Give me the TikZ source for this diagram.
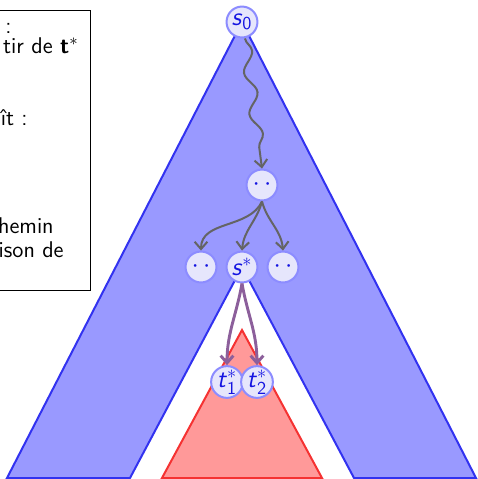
\documentclass[tikz,border=0pt]{standalone}
\usetikzlibrary{arrows.meta,decorations.pathmorphing}
\definecolor{nodefill}{RGB}{230,230,252}
\definecolor{nodedraw}{RGB}{140,140,255}
\definecolor{bluefill}{RGB}{153,153,255}
\definecolor{bluedraw}{RGB}{50,50,240}
\definecolor{redfill}{RGB}{255,153,153}
\definecolor{reddraw}{RGB}{245,50,50}
\definecolor{arrgray}{RGB}{100,100,100}
\definecolor{arrpurple}{RGB}{140,95,155}
\definecolor{nodetext}{RGB}{20,20,225}
\tikzset{
  state/.style={circle, fill=nodefill, draw=nodedraw, line width=1.1pt, minimum size=17pt, inner sep=0pt, text=nodetext, font=\sffamily\fontsize{14}{16}\selectfont},
  frag/.style={anchor=base east, inner sep=0pt, font=\sffamily\fontsize{12.5}{15}\selectfont},
  grayarr/.style={draw=arrgray, line width=1.1pt, -{Straight Barb[length=4pt,width=7pt]}},
  purparr/.style={draw=arrpurple, line width=1.6pt, -{Straight Barb[length=4pt,width=7pt]}},
}
\begin{document}
\begin{tikzpicture}[x=0.55pt,y=-0.55pt]
\useasboundingbox (0,0) rectangle (478,479);
% text box (cut at left edge)
\draw[line width=0.5pt] (-80,10) rectangle (90,290);
\node[frag] (l1) at (12,33) {:};
\node[frag] (l2) at (79,53) {tir de \textbf{t}$^*$};
\node[frag] (l3) at (28,125) {ît :};
\node[frag] (l4) at (54,233) {hemin};
\node[frag] (l5) at (64,257) {ison de};
% blue tree with notch
\filldraw[fill=bluefill, draw=bluedraw, line width=1.1pt, line join=miter]
  (242,22) -- (476,478) -- (354,478) -- (242,267) -- (130,478) -- (7,478) -- cycle;
% red subtree
\filldraw[fill=redfill, draw=reddraw, line width=1.1pt]
  (242,330) -- (322,478) -- (162,478) -- cycle;
% nodes
\node[state] (s0) at (242,22) {\textit{s}$_{\mathsf{0}}$};
\node[state] (m) at (262,185) {$\cdot\,\cdot$};
\node[state] (a) at (201,267) {$\cdot\,\cdot$};
\node[state] (s) at (242,267) {\textit{s}$^{*}$};
\node[state] (b) at (283,267) {$\cdot\,\cdot$};
\node[state] (t1) at (227,382) {\textit{t}$^{*}_{\mathsf{1}}$};
\node[state] (t2) at (257,382) {\textit{t}$^{*}_{\mathsf{2}}$};
% connectors
\draw[grayarr, decorate, decoration={snake, amplitude=3pt, segment length=23pt, post length=5pt}]
  (s0.south) ++(3,0) coordinate (w0) (w0) -- (m.north);
\draw[grayarr] (m.south) to[out=-115,in=90] (a.north);
\draw[grayarr] (m.south) to[out=-105,in=85] (s.north);
\draw[grayarr] (m.south) to[out=-75,in=95] (b.north);
\draw[purparr] (s.south) to[out=-100,in=90] (t1.north);
\draw[purparr] (s.south) to[out=-80,in=90] (t2.north);
\end{tikzpicture}
\end{document}
